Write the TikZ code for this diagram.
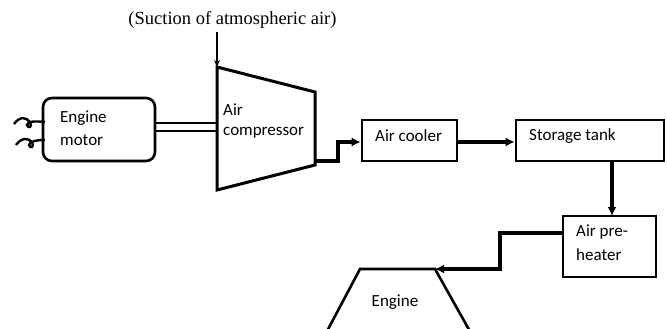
\documentclass[tikz,border=0pt]{standalone}
\usepackage{fontspec}
\setmainfont{Carlito}
\newfontfamily\serifface{Liberation Serif}
\usetikzlibrary{arrows.meta,calc}
\begin{document}
\begin{tikzpicture}[x=1pt,y=-1pt,
  box/.style={draw,line width=2.6pt,inner sep=0pt},
  txt/.style={inner sep=0pt,anchor=west,font=\fontsize{17}{19}\selectfont},
  flow/.style={line width=3.6pt,-{Latex[length=9pt,width=9pt]}},
  thin/.style={line width=1.8pt}]
\useasboundingbox (0,0) rectangle (667,329);
% title
\node[inner sep=0pt,font=\serifface\fontsize{18.5}{20}\selectfont] (suct) at (232.5,20) {(Suction of atmospheric air)};
% engine motor
\node[box,rounded corners=9pt,minimum width=112pt,minimum height=63pt] (motor) at (99,129.5) {};
\node[txt] (motorA) at (60,118) {Engine};
\node[txt] (motorB) at (60,140) {motor};
% wires
\coordinate (w1) at (45,122);
\coordinate (w2) at (45,140);
\draw[line width=2.4pt] (14,124) .. controls (20,116) and (26,117) .. (30,122) .. controls (33,127) and (28,129) .. (27,125) .. controls (27,121) and (36,121) .. (w1);
\draw[line width=2.4pt] (16,145) .. controls (22,137) and (28,138) .. (32,142) .. controls (35,147) and (30,149) .. (29,145) .. controls (29,141) and (38,140) .. (w2);
% compressor
\coordinate (ctl) at (217,67);
\coordinate (ctr) at (315,92);
\coordinate (cbr) at (315,165);
\coordinate (cbl) at (217,190);
\draw[line width=3pt,line join=miter] (ctl) -- (ctr) -- (cbr) -- (cbl) -- cycle;
\node[txt] (compA) at (223,110) {Air};
\node[txt] (compB) at (223,133) {compressor};
% shaft
\draw[thin] (motor.east |- 0,123) -- (ctl |- 0,123);
\draw[thin] (motor.east |- 0,131) -- (ctl |- 0,131);
% suction arrow
\coordinate (sa) at (217,32);
\draw[line width=1.2pt,-{Stealth[length=7pt,width=6pt]}] (sa) -- (ctl);
% air cooler
\node[box,minimum width=95pt,minimum height=41pt] (cooler) at (409.5,140.5) {};
\node[txt] (coolerT) at (375,136) {Air cooler};
% storage tank
\node[box,minimum width=148pt,minimum height=41pt] (tank) at (590,140.5) {};
\node[txt] (tankT) at (529,136) {Storage tank};
% preheater
\node[box,minimum width=93pt,minimum height=61pt] (pre) at (609.5,246.5) {};
\node[txt] (preA) at (576,232) {Air pre-};
\node[txt] (preB) at (576,255) {heater};
% engine
\coordinate (etl) at (360,269);
\coordinate (etr) at (435,269);
\draw[line width=2.6pt,line join=miter] (325,335) -- (etl) -- (etr) -- (472,335);
\node[txt,anchor=center] (engT) at (395,302) {Engine};
% flows
\coordinate (cout) at (315,161);
\draw[flow] (cout) -- (338,161) -- (338,142) -- (cooler.west |- 0,142);
\draw[flow] (cooler.east |- 0,142) -- (tank.west |- 0,142);
\draw[flow] (612,161) -- (612,216);
\draw[flow] (pre.west |- 0,233) -- (500,233) -- (500,269) -- (etr);
\end{tikzpicture}
\end{document}
